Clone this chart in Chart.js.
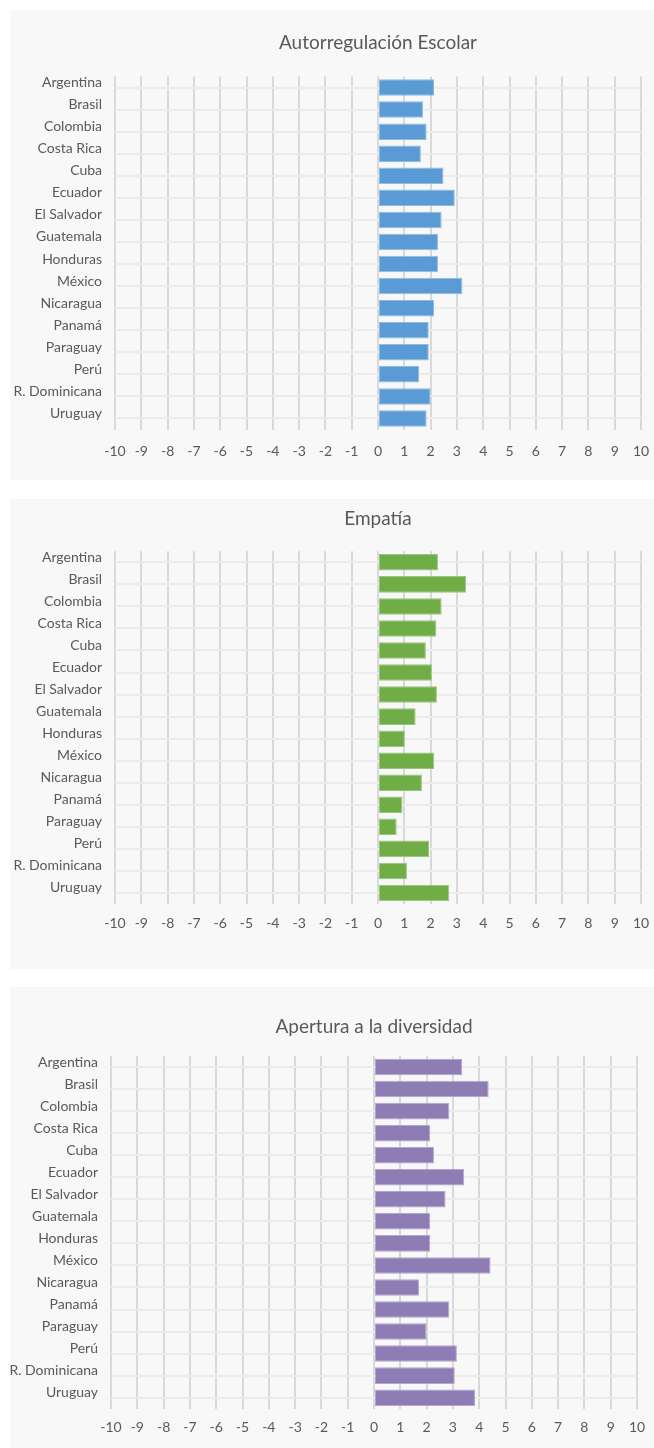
<!DOCTYPE html>
<html>
<head>
<meta charset="utf-8">
<script src="https://cdn.jsdelivr.net/npm/chart.js@4"></script>
<style>
  body { margin: 0; background: #ffffff; }
  .panel { position: absolute; left: 10px; width: 644px; background: #f8f8f8; }
  canvas { display: block; }
</style>
</head>
<body>
<div class="panel" style="top:10px;height:470px"><canvas id="c1" width="644" height="470"></canvas></div>
<div class="panel" style="top:499px;height:470px"><canvas id="c2" width="644" height="470"></canvas></div>
<div class="panel" style="top:987px;height:461px"><canvas id="c3" width="644" height="461"></canvas></div>
<script>
  const paises = ["Argentina", "Brasil", "Colombia", "Costa Rica", "Cuba", "Ecuador", "El Salvador",
    "Guatemala", "Honduras", "México", "Nicaragua", "Panamá", "Paraguay", "Perú", "R. Dominicana", "Uruguay"];

  const autorregulacion = [2.13, 1.71, 1.85, 1.63, 2.49, 2.92, 2.42, 2.28, 2.28, 3.21, 2.13, 1.93, 1.93, 1.57, 2.0, 1.85];
  const empatia = [2.28, 3.35, 2.42, 2.22, 1.82, 2.05, 2.24, 1.43, 1.02, 2.14, 1.67, 0.93, 0.71, 1.94, 1.10, 2.71];
  const apertura = [3.35, 4.36, 2.86, 2.14, 2.28, 3.43, 2.72, 2.14, 2.14, 4.43, 1.71, 2.86, 2.0, 3.15, 3.07, 3.85];

  const xMin = -10;
  const xMax = 10;
  const xStep = 1;

  const fontFam = "Lato, 'Open Sans', sans-serif";
  const textColor = "#595959";

  function chart(id, titulo, valores, color, borde, g) {
    var ctx = document.getElementById(id).getContext("2d");
    var H = ctx.canvas.height;
    var W = ctx.canvas.width;
    var tSize = 19;
    var tLine = tSize * 1.2;
    return new Chart(ctx, {
      type: "bar",
      data: {
        labels: paises,
        datasets: [
          {
            label: titulo,
            data: valores,
            backgroundColor: color,
            borderColor: borde,
            borderWidth: 1,
            borderSkipped: false,
            barPercentage: 0.75,
            categoryPercentage: 1,
          },
        ],
      },
      options: {
        indexAxis: "y",
        responsive: false,
        animation: false,
        layout: { padding: { left: 0, right: W - g.right, top: 0, bottom: 0 } },
        plugins: {
          legend: { display: false },
          tooltip: { enabled: false },
          title: {
            display: true,
            text: titulo,
            fullSize: false,
            color: textColor,
            font: { family: fontFam, size: tSize, weight: "normal", lineHeight: 1.2 },
            padding: { top: g.titleY - tLine / 2, bottom: g.top - g.titleY - tLine / 2 },
          },
        },
        scales: {
          x: {
            type: "linear",
            min: xMin,
            max: xMax,
            position: "bottom",
            afterFit: (s) => { s.height = H - g.bottom; },
            ticks: {
              stepSize: xStep,
              color: textColor,
              padding: 0,
              maxRotation: 0,
              autoSkip: false,
              font: { family: fontFam, size: 14 },
            },
            // invisible tick marks push the labels down without widening the right padding
            grid: { color: "#d9d9d9", lineWidth: 2, drawTicks: true, tickLength: g.tickGap, tickColor: "rgba(0,0,0,0)" },
            border: { display: false },
          },
          y: {
            type: "category",
            afterFit: (s) => { s.width = g.left; },
            ticks: {
              color: textColor,
              padding: 13,
              labelOffset: -5,
              autoSkip: false,
              font: { family: fontFam, size: 14 },
            },
            grid: { color: "#ececec", lineWidth: 2, offset: false, drawTicks: false },
            border: { display: false },
          },
        },
      },
    });
  }

  chart("c1", "Autorregulación Escolar", autorregulacion, "#5b9bd5", "#8dbbe3",
    { left: 105, right: 631, top: 66.5, bottom: 419.5, titleY: 33, tickGap: 14 });
  chart("c2", "Empatía", empatia, "#70ad47", "#98c67c",
    { left: 105, right: 631, top: 52.3, bottom: 405, titleY: 20, tickGap: 11 });
  chart("c3", "Apertura a la diversidad", apertura, "#8e7cb4", "#b2a5cf",
    { left: 101, right: 627, top: 69, bottom: 421.7, titleY: 39.7, tickGap: 10 });
</script>
</body>
</html>
